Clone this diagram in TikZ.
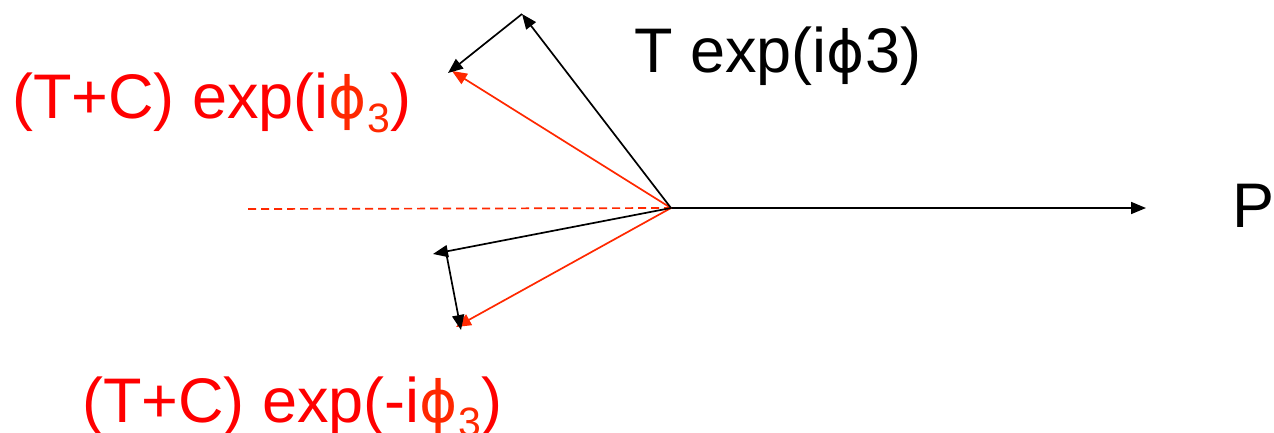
\documentclass[tikz,border=0pt]{standalone}
\usepackage{fontspec}
\setmainfont{Liberation Sans}
\newfontfamily\symf{DejaVu Sans}
\usetikzlibrary{arrows.meta}
\definecolor{tred}{RGB}{255,0,0}
\definecolor{lred}{RGB}{255,40,0}
\newcommand{\phisym}{{\symf\fontsize{58}{58}\selectfont ϕ}}
\newcommand{\subthree}{\raisebox{-14pt}{\fontsize{41}{41}\selectfont 3}}
\begin{document}
\begin{tikzpicture}[x=1pt,y=-1pt,
  vec/.style={line width=1.7pt,-{Triangle[length=15pt,width=12pt]}},
  lbl/.style={inner sep=0pt,anchor=base west,font=\fontsize{63}{63}\selectfont}]
\useasboundingbox (0,0) rectangle (1274,432);
\coordinate (O) at (671,208);
\coordinate (PT) at (1146,208);
\coordinate (A) at (522,14);
\coordinate (B) at (448,73);
\coordinate (C) at (433,254);
\coordinate (D) at (461,330);
\coordinate (DL) at (248,209);
\coordinate (RU) at (452,71);
\coordinate (RL) at (456,327);
\coordinate (CS) at (446,252);
% dashed reference line
\draw[lred,line width=1.7pt,dash pattern=on 8pt off 5pt] (DL) -- (O);
% P vector
\draw[vec,black] (O) -- (PT);
% upper
\draw[vec,lred] (O) -- (RU);
\draw[vec,black] (O) -- (A);
\draw[vec,black] (A) -- (B);
% lower
\draw[vec,lred] (O) -- (RL);
\draw[vec,black] (O) -- (C);
\draw[vec,black] (CS) -- (D);
% labels
\node[lbl] (tlab) at (634,72) {T exp(i\phisym 3)};
\node[lbl] (plab) at (1232,227) {P};
\node[lbl,text=tred] (ulab) at (12,118) {(T+C) exp(i{\color{lred}\phisym\subthree})};
\node[lbl,text=tred] (llab) at (82,422) {(T+C) exp(-i{\color{lred}\phisym\subthree})};
\end{tikzpicture}
\end{document}
